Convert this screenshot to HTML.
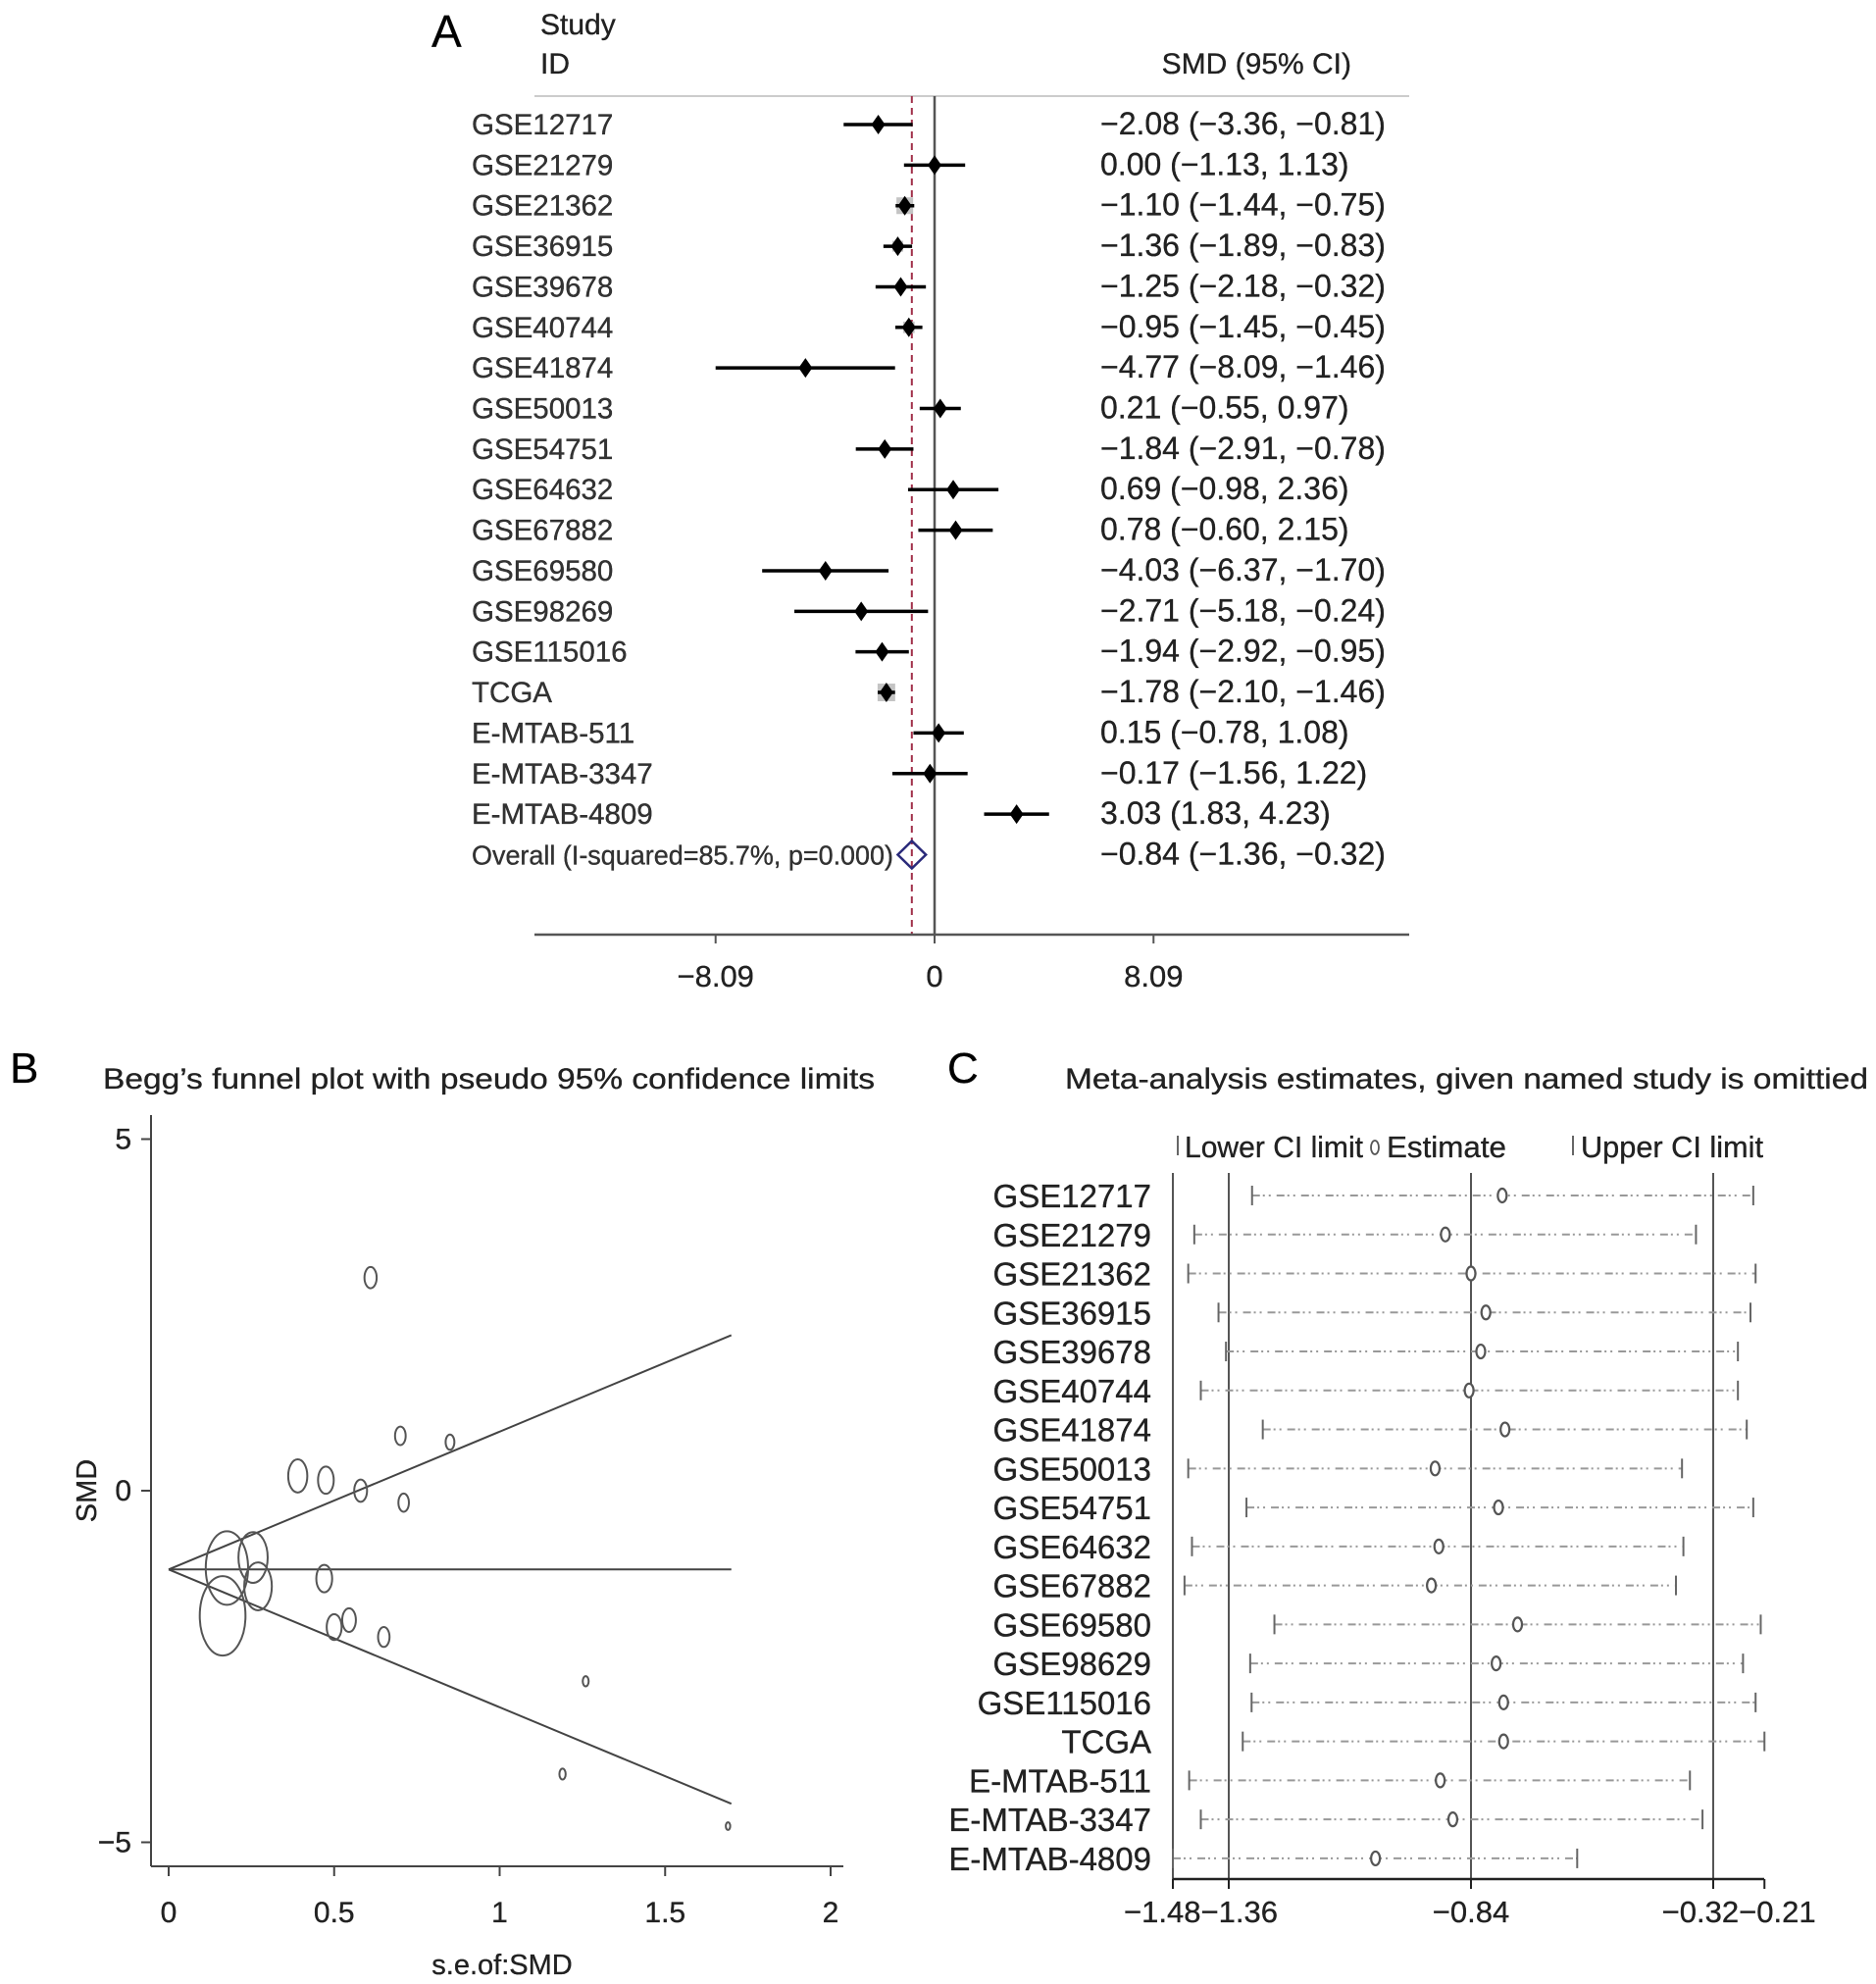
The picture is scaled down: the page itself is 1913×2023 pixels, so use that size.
<!DOCTYPE html>
<html><head><meta charset="utf-8"><style>
html,body{margin:0;padding:0;background:#fff}
svg{display:block;font-family:"Liberation Sans",Arial,sans-serif}
text{stroke:#111;stroke-width:0.3}
</style></head><body>
<svg id="fig" width="1913" height="2023" viewBox="0 0 1913 2023">
<g id="pa"></g>
<g id="pb"></g>
<g id="pc"></g>
</svg>
<script>
const studiesA = ["GSE12717","GSE21279","GSE21362","GSE36915","GSE39678","GSE40744","GSE41874","GSE50013","GSE54751","GSE64632","GSE67882","GSE69580","GSE98269","GSE115016","TCGA","E-MTAB-511","E-MTAB-3347","E-MTAB-4809"];
const smd = [-2.08,0.00,-1.10,-1.36,-1.25,-0.95,-4.77,0.21,-1.84,0.69,0.78,-4.03,-2.71,-1.94,-1.78,0.15,-0.17,3.03];
const ciLow = [-3.36,-1.13,-1.44,-1.89,-2.18,-1.45,-8.09,-0.55,-2.91,-0.98,-0.60,-6.37,-5.18,-2.92,-2.10,-0.78,-1.56,1.83];
const ciHigh = [-0.81,1.13,-0.75,-0.83,-0.32,-0.45,-1.46,0.97,-0.78,2.36,2.15,-1.70,-0.24,-0.95,-1.46,1.08,1.22,4.23];
const overall = [-0.84,-1.36,-0.32];
const overallLabel = "Overall (I-squared=85.7%, p=0.000)";
const ticksA = [-8.09,0,8.09];

const seB = [0.65,0.58,0.176,0.27,0.47,0.255,1.69,0.39,0.545,0.85,0.70,1.19,1.26,0.50,0.163,0.475,0.71,0.61];
const smdB = [-2.08,0.00,-1.10,-1.36,-1.25,-0.95,-4.77,0.21,-1.84,0.69,0.78,-4.03,-2.71,-1.94,-1.78,0.15,-0.17,3.03];
const fixedEst = [-1.12];
const ticksBx = [0,0.5,1,1.5,2];
const ticksBy = [5,0,-5];

const studiesC = ["GSE12717","GSE21279","GSE21362","GSE36915","GSE39678","GSE40744","GSE41874","GSE50013","GSE54751","GSE64632","GSE67882","GSE69580","GSE98629","GSE115016","TCGA","E-MTAB-511","E-MTAB-3347","E-MTAB-4809"];
const lowC = [-1.31,-1.434,-1.447,-1.382,-1.366,-1.42,-1.287,-1.447,-1.322,-1.439,-1.455,-1.262,-1.314,-1.311,-1.33,-1.445,-1.42,-1.48];
const estC = [-0.773,-0.895,-0.84,-0.808,-0.819,-0.844,-0.767,-0.917,-0.781,-0.909,-0.925,-0.74,-0.786,-0.77,-0.77,-0.906,-0.879,-1.045];
const upC = [-0.234,-0.357,-0.229,-0.24,-0.267,-0.267,-0.248,-0.387,-0.234,-0.384,-0.40,-0.218,-0.256,-0.229,-0.21,-0.37,-0.343,-0.612];
const ticksC = [-1.48,-1.36,-0.84,-0.32,-0.21];
const tickLabelsC = ["\u22121.48","\u22121.36","\u22120.84","\u22120.32","\u22120.21"];

const NS="http://www.w3.org/2000/svg";
function mk(parent,tag,attrs,text){const e=document.createElementNS(NS,tag);for(const k in attrs)e.setAttribute(k,attrs[k]);if(text!==undefined)e.textContent=text;parent.appendChild(e);return e;}
function fmt(v){return (v<0?"\u2212":"")+Math.abs(v).toFixed(2);}
function fmtT(v){return v===0?"0":(v<0?"\u2212":"")+Math.abs(v);}

// ---------- Panel A ----------
(function(){
const g=document.getElementById('pa');
const xA=v=>953+v*27.6;
const rowY=i=>127+i*41.36;
let t;
t=mk(g,'text',{x:440,y:48,'font-size':46},'A');
t=mk(g,'text',{x:551,y:35,'font-size':30,fill:'#222'},'Study');
t=mk(g,'text',{x:551,y:75,'font-size':30,fill:'#222'},'ID');
t=mk(g,'text',{x:1378,y:75,'font-size':30,fill:'#222','text-anchor':'end'},'SMD (95% CI)');
let l=mk(g,'line',{x1:545,x2:1437,y1:98,y2:98,stroke:'#ccc','stroke-width':2});
l=mk(g,'line',{x1:xA(0),x2:xA(0),y1:98,y2:953,stroke:'#555','stroke-width':2.5});
l=mk(g,'line',{x1:xA(overall[0]),x2:xA(overall[0]),y1:98,y2:953,stroke:'#a0304a','stroke-width':2,'stroke-dasharray':'7,5'});
studiesA.forEach((s,i)=>{
 const y=rowY(i);
 let e=mk(g,'text',{x:481,y:y+10,'font-size':29.5,fill:'#333'},s);
 e=mk(g,'text',{x:1122,y:y+10,'font-size':32,fill:'#222'},fmt(smd[i])+" ("+fmt(ciLow[i])+", "+fmt(ciHigh[i])+")");
 const se=(ciHigh[i]-ciLow[i])/3.92;
 const w=Math.min(18,3/se);
 e=mk(g,'rect',{x:xA(smd[i])-w/2,y:y-w/2,width:w,height:w,fill:'#c4c4c4'});
 e=mk(g,'line',{x1:xA(ciLow[i]),x2:xA(ciHigh[i]),y1:y,y2:y,stroke:'#000','stroke-width':3.5});
 const cx=xA(smd[i]);
 e=mk(g,'polygon',{points:`${cx-7},${y} ${cx},${y-10} ${cx+7},${y} ${cx},${y+10}`,fill:'#000'});
});
const yo=rowY(18);
t=mk(g,'text',{x:481,y:yo+10,'font-size':28,fill:'#333',textLength:430,lengthAdjust:'spacingAndGlyphs'},overallLabel);
t=mk(g,'text',{x:1122,y:yo+10,'font-size':32,fill:'#222'},fmt(overall[0])+" ("+fmt(overall[1])+", "+fmt(overall[2])+")");
let p=mk(g,'polygon',{points:`${xA(overall[1])},${yo} ${xA(overall[0])},${yo-14} ${xA(overall[2])},${yo} ${xA(overall[0])},${yo+14}`,fill:'none',stroke:'#2a2a7a','stroke-width':2.5});
l=mk(g,'line',{x1:545,x2:1437,y1:953,y2:953,stroke:'#555','stroke-width':2.5});
ticksA.forEach(v=>{
 let e=mk(g,'line',{x1:xA(v),x2:xA(v),y1:953,y2:962,stroke:'#555','stroke-width':2});
 e=mk(g,'text',{x:xA(v),y:1006,'font-size':31,'text-anchor':'middle',fill:'#222'},fmtT(v));
});
})();

// ---------- Panel B ----------
(function(){
const g=document.getElementById('pb');
const xB=v=>172+v*337.5;
const yB=v=>1520-v*71.7;
let t=mk(g,'text',{x:10,y:1104,'font-size':44},'B');
t=mk(g,'text',{x:105,y:1110,'font-size':30,fill:'#222',textLength:787,lengthAdjust:'spacingAndGlyphs'},"Begg\u2019s funnel plot with pseudo 95% confidence limits");
let l=mk(g,'line',{x1:154,x2:154,y1:1137,y2:1903,stroke:'#444','stroke-width':2});
l=mk(g,'line',{x1:154,x2:860,y1:1903,y2:1903,stroke:'#444','stroke-width':2});
ticksBy.forEach(v=>{
 let e=mk(g,'line',{x1:144,x2:154,y1:yB(v),y2:yB(v),stroke:'#444','stroke-width':2});
 e=mk(g,'text',{x:134,y:yB(v)+10,'font-size':30,'text-anchor':'end',fill:'#222'},fmtT(v));
});
ticksBx.forEach(v=>{
 let e=mk(g,'line',{x1:xB(v),x2:xB(v),y1:1903,y2:1913,stroke:'#444','stroke-width':2});
 e=mk(g,'text',{x:xB(v),y:1960,'font-size':30,'text-anchor':'middle',fill:'#222'},String(v));
});
t=mk(g,'text',{x:512,y:2013,'font-size':29,'text-anchor':'middle',fill:'#222'},'s.e.of:SMD');
t=mk(g,'text',{x:98,y:1520,'font-size':29,'text-anchor':'middle',fill:'#222',transform:'rotate(-90 98 1520)'},'SMD');
const f=fixedEst[0],xm=1.7;
l=mk(g,'line',{x1:xB(0),y1:yB(f),x2:xB(xm),y2:yB(f),stroke:'#444','stroke-width':2});
l=mk(g,'line',{x1:xB(0),y1:yB(f),x2:xB(xm),y2:yB(f+1.96*xm),stroke:'#444','stroke-width':2});
l=mk(g,'line',{x1:xB(0),y1:yB(f),x2:xB(xm),y2:yB(f-1.96*xm),stroke:'#444','stroke-width':2});
seB.forEach((s,i)=>{
 const e=mk(g,'ellipse',{cx:xB(s),cy:yB(smdB[i]),rx:3.8/s,ry:6.6/s,fill:'none',stroke:'#555','stroke-width':2});
 
 
});
})();

// ---------- Panel C ----------
(function(){
const g=document.getElementById('pc');
const xC=v=>1196+(v+1.48)*475;
const rowY=i=>1219+i*39.76;
let t=mk(g,'text',{x:966,y:1104,'font-size':44},'C');
t=mk(g,'text',{x:1086,y:1110,'font-size':30,fill:'#222',textLength:819,lengthAdjust:'spacingAndGlyphs'},'Meta-analysis estimates, given named study is omittied');
let e=mk(g,'line',{x1:1201,x2:1201,y1:1158,y2:1178,stroke:'#666','stroke-width':2});
e=mk(g,'text',{x:1208,y:1180,'font-size':31,fill:'#222',textLength:182,lengthAdjust:'spacingAndGlyphs'},'Lower CI limit');
e=mk(g,'ellipse',{cx:1402,cy:1170,rx:4,ry:7,fill:'none',stroke:'#555','stroke-width':1.8});
e=mk(g,'text',{x:1414,y:1180,'font-size':31,fill:'#222',textLength:122,lengthAdjust:'spacingAndGlyphs'},'Estimate');
e=mk(g,'line',{x1:1604,x2:1604,y1:1158,y2:1178,stroke:'#666','stroke-width':2});
e=mk(g,'text',{x:1612,y:1180,'font-size':31,fill:'#222',textLength:186,lengthAdjust:'spacingAndGlyphs'},'Upper CI limit');
[-1.48,-1.36,-0.84,-0.32].forEach(v=>{
 const r=mk(g,'line',{x1:xC(v),x2:xC(v),y1:1196,y2:1916,stroke:'#555','stroke-width':2});
 
 
});
studiesC.forEach((s,i)=>{
 const y=rowY(i);
 let e=mk(g,'text',{x:1174,y:y+12,'font-size':33,'text-anchor':'end',fill:'#222'},s);
 e=mk(g,'line',{x1:xC(lowC[i]),x2:xC(upC[i]),y1:y,y2:y,stroke:'#999','stroke-width':2,'stroke-dasharray':'8,3,2,4,2,6'});
 e=mk(g,'line',{x1:xC(lowC[i]),x2:xC(lowC[i]),y1:y-10,y2:y+10,stroke:'#666','stroke-width':2});
 e=mk(g,'line',{x1:xC(upC[i]),x2:xC(upC[i]),y1:y-10,y2:y+10,stroke:'#666','stroke-width':2});
 e=mk(g,'ellipse',{cx:xC(estC[i]),cy:y,rx:4.5,ry:7,fill:'#fff',stroke:'#555','stroke-width':2.2});
});
e=mk(g,'line',{x1:1196,x2:1799,y1:1916,y2:1916,stroke:'#222','stroke-width':2.5});
ticksC.forEach((v,i)=>{
 let k=mk(g,'line',{x1:xC(v),x2:xC(v),y1:1916,y2:1926,stroke:'#222','stroke-width':2});
 let anchor='middle',x=xC(v);
 if(i===0){anchor='end';x=(xC(ticksC[0])+xC(ticksC[1]))/2;}
 if(i===1){anchor='start';x=(xC(ticksC[0])+xC(ticksC[1]))/2;}
 if(i===3){anchor='end';x=(xC(ticksC[3])+xC(ticksC[4]))/2;}
 if(i===4){anchor='start';x=(xC(ticksC[3])+xC(ticksC[4]))/2;}
 k=mk(g,'text',{x:x,y:1960,'font-size':31,'text-anchor':anchor,fill:'#222'},tickLabelsC[i]);
});
})();
</script>
</body></html>
